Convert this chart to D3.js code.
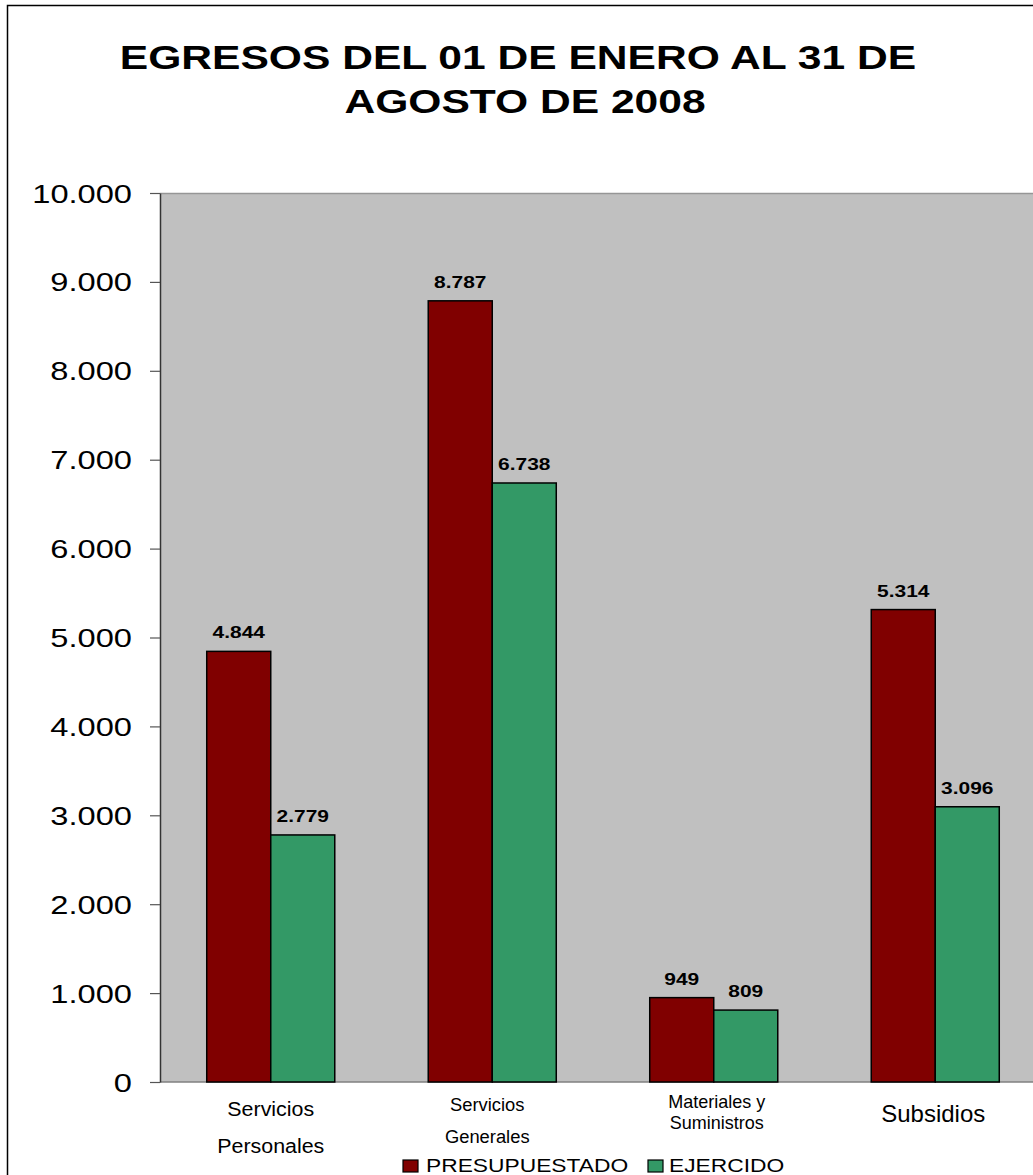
<!DOCTYPE html>
<html>
<head>
<meta charset="utf-8">
<script src="https://cdn.jsdelivr.net/npm/d3@7"></script>
<style>
	html, body { margin: 0; padding: 0; background: #ffffff; }
	svg { display: block; font-family: "Liberation Sans", Arial, sans-serif; }
</style>
</head>
<body>
<div id="chart"></div>
<script>
// chart values
const titleLines = ['EGRESOS DEL 01 DE ENERO AL 31 DE', 'AGOSTO DE 2008'];
const categories = ['Servicios Personales', 'Servicios Generales', 'Materiales y Suministros', 'Subsidios'];
const categoryLines = [['Servicios', 'Personales'], ['Servicios', 'Generales'], ['Materiales y', 'Suministros'], ['Subsidios']];
const seriesNames = ['PRESUPUESTADO', 'EJERCIDO'];
const presupuestado = [4844, 8787, 949, 5314];
const ejercido = [2779, 6738, 809, 3096];
const yTicks = [0, 1000, 2000, 3000, 4000, 5000, 6000, 7000, 8000, 9000, 10000];

const colors = { PRESUPUESTADO: '#800000', EJERCIDO: '#339966' };

// per-category label styling (the original uses mixed sizes)
const labelStyle = [
	{ size: 20, sx: 1.07, base: 1116, gap: 37, dx: 0 },
	{ size: 18, sx: 1.02, base: 1111, gap: 32, dx: -5 },
	{ size: 17.5, sx: 1.03, base: 1108, gap: 21, dx: 3 },
	{ size: 24, sx: 1.0, base: 1122, gap: 0, dx: -2 }
];

const W = 1033, H = 1175;
const plot = { left: 160, right: 1046, top: 193, bottom: 1082 };
const sxText = 1.28; // the source image is stretched horizontally

const svg = d3.select('#chart').append('svg')
	.attr('width', W)
	.attr('height', H);

// outer chart border (runs off the right / bottom edge)
svg.append('rect')
	.attr('x', 7.5).attr('y', 5.5)
	.attr('width', W + 20).attr('height', H + 20)
	.attr('fill', 'none')
	.attr('stroke', '#000')
	.attr('stroke-width', 1.5);

const stretched = (sel, x, y, sx) => sel.attr('transform', `translate(${x},${y}) scale(${sx},1)`);

// title
titleLines.forEach((t, i) => {
	svg.append('text')
		.call(stretched, i === 0 ? 518 : 525, 69 + i * 44, 1.29)
		.attr('text-anchor', 'middle')
		.style('font-size', '33px')
		.style('font-weight', 'bold')
		.style('fill', '#000')
		.text(t);
});

const y = d3.scaleLinear().domain([0, 10000]).range([plot.bottom, plot.top]);
const x0 = d3.scaleBand().domain(categories).range([plot.left, plot.right])
	.paddingInner(0.422).paddingOuter(0.211);
const x1 = d3.scaleBand().domain(seriesNames).range([0, x0.bandwidth()]);

// plot area
svg.append('rect')
	.attr('x', plot.left).attr('y', plot.top)
	.attr('width', plot.right - plot.left).attr('height', plot.bottom - plot.top)
	.attr('fill', '#c0c0c0');
svg.append('line')
	.attr('x1', plot.left).attr('x2', plot.right)
	.attr('y1', plot.top + 0.5).attr('y2', plot.top + 0.5)
	.attr('stroke', '#969696').attr('stroke-width', 1.5);
svg.append('line')
	.attr('x1', plot.left).attr('x2', plot.right)
	.attr('y1', plot.bottom).attr('y2', plot.bottom)
	.attr('stroke', '#808080').attr('stroke-width', 1.5);

// y axis
const locale = d3.formatLocale({ decimal: ',', thousands: '.', grouping: [3], currency: ['$', ''] });
const fmt = locale.format(',d');

const yAxis = svg.append('g')
	.attr('transform', `translate(${plot.left},0)`)
	.call(d3.axisLeft(y).tickValues(yTicks).tickFormat(fmt).tickSize(10).tickSizeOuter(0));
yAxis.select('.domain').attr('stroke', '#333').attr('stroke-width', 1.5);
yAxis.selectAll('.tick line').attr('stroke', '#555').attr('stroke-width', 1.2);
yAxis.selectAll('.tick text')
	.attr('x', null).attr('dy', null)
	.attr('transform', `translate(-28,9) scale(${sxText},1)`)
	.attr('text-anchor', 'end')
	.style('font-family', '"Liberation Sans", Arial, sans-serif')
	.style('font-size', '25.5px')
	.style('fill', '#000');

// bars
const rows = categories.map((c, i) => ({
	cat: c,
	values: [
		{ series: 'PRESUPUESTADO', value: presupuestado[i] },
		{ series: 'EJERCIDO', value: ejercido[i] }
	]
}));

const groups = svg.append('g').selectAll('g.group')
	.data(rows)
	.join('g')
	.attr('class', 'group')
	.attr('transform', d => `translate(${x0(d.cat)},0)`);

groups.selectAll('rect')
	.data(d => d.values)
	.join('rect')
	.attr('x', d => x1(d.series))
	.attr('y', d => y(d.value))
	.attr('width', x1.bandwidth())
	.attr('height', d => y(0) - y(d.value))
	.attr('fill', d => colors[d.series])
	.attr('stroke', '#000')
	.attr('stroke-width', 1.5);

groups.selectAll('text.value')
	.data(d => d.values)
	.join('text')
	.attr('class', 'value')
	.each(function (d) {
		stretched(d3.select(this), x1(d.series) + x1.bandwidth() / 2, y(d.value) - 13, 1.27);
	})
	.attr('text-anchor', 'middle')
	.style('font-size', '16.5px')
	.style('font-weight', 'bold')
	.style('fill', '#000')
	.text(d => fmt(d.value));

// category labels
categories.forEach((c, i) => {
	const st = labelStyle[i];
	const cx = x0(c) + x0.bandwidth() / 2 + st.dx;
	categoryLines[i].forEach((line, j) => {
		svg.append('text')
			.call(stretched, cx, st.base + j * st.gap, st.sx)
			.attr('text-anchor', 'middle')
			.style('font-size', st.size + 'px')
			.style('fill', '#000')
			.text(line);
	});
});

// legend
const legend = svg.append('g');
const legendItems = [
	{ name: seriesNames[0], box: 403, text: 426 },
	{ name: seriesNames[1], box: 648, text: 669 }
];
legendItems.forEach(it => {
	legend.append('rect')
		.attr('x', it.box).attr('y', 1160)
		.attr('width', 15).attr('height', 12)
		.attr('fill', colors[it.name])
		.attr('stroke', '#000')
		.attr('stroke-width', 1.2);
	legend.append('text')
		.call(stretched, it.text, 1172, 1.2)
		.style('font-size', '19px')
		.style('fill', '#000')
		.text(it.name);
});
</script>
</body>
</html>
